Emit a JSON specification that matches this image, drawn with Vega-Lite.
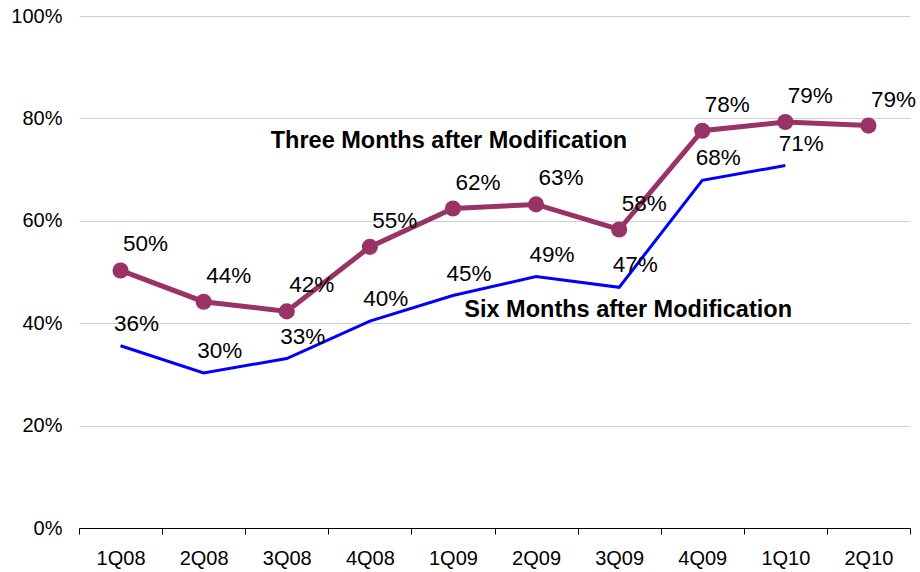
{
  "$schema": "https://vega.github.io/schema/vega-lite/v6.json",
  "width": 831,
  "height": 512,
  "autosize": "none",
  "padding": {"left": 79, "top": 16, "right": 10, "bottom": 44},
  "config": {"view": {"stroke": null}, "font": "Liberation Sans"},
  "data": {
    "values": [
      {"q": "1Q08", "s": "Three", "v": 0.503},
      {"q": "2Q08", "s": "Three", "v": 0.442},
      {"q": "3Q08", "s": "Three", "v": 0.423},
      {"q": "4Q08", "s": "Three", "v": 0.549},
      {"q": "1Q09", "s": "Three", "v": 0.624},
      {"q": "2Q09", "s": "Three", "v": 0.632},
      {"q": "3Q09", "s": "Three", "v": 0.583},
      {"q": "4Q09", "s": "Three", "v": 0.776},
      {"q": "1Q10", "s": "Three", "v": 0.793},
      {"q": "2Q10", "s": "Three", "v": 0.786},
      {"q": "1Q08", "s": "Six", "v": 0.356},
      {"q": "2Q08", "s": "Six", "v": 0.303},
      {"q": "3Q08", "s": "Six", "v": 0.331},
      {"q": "4Q08", "s": "Six", "v": 0.404},
      {"q": "1Q09", "s": "Six", "v": 0.454},
      {"q": "2Q09", "s": "Six", "v": 0.491},
      {"q": "3Q09", "s": "Six", "v": 0.470},
      {"q": "4Q09", "s": "Six", "v": 0.679},
      {"q": "1Q10", "s": "Six", "v": 0.708}
    ]
  },
  "encoding": {
    "x": {
      "field": "q", "type": "nominal", "sort": null,
      "scale": {"type": "band", "paddingInner": 0, "paddingOuter": 0,
        "domain": ["1Q08","2Q08","3Q08","4Q08","1Q09","2Q09","3Q09","4Q09","1Q10","2Q10"]},
      "axis": {"title": null, "labelAngle": 0, "labelFontSize": 20, "labelColor": "#000000",
        "domainColor": "#000000", "tickColor": "#000000", "tickSize": 6, "tickBand": "extent",
        "labelPadding": 14, "grid": false}
    },
    "y": {
      "field": "v", "type": "quantitative",
      "scale": {"domain": [0, 1]},
      "axis": {"title": null, "format": ".0%", "values": [0, 0.2, 0.4, 0.6, 0.8, 1],
        "domain": false, "ticks": false, "grid": true, "gridColor": "#d0d0d0",
        "labelFontSize": 20, "labelColor": "#000000", "labelPadding": 17}
    }
  },
  "layer": [
    {
      "transform": [{"filter": "datum.s === 'Six'"}],
      "mark": {"type": "line", "color": "#0000ff", "strokeWidth": 3}
    },
    {
      "transform": [{"filter": "datum.s === 'Three'"}],
      "mark": {"type": "line", "color": "#993366", "strokeWidth": 5}
    },
    {
      "transform": [{"filter": "datum.s === 'Three'"}],
      "mark": {"type": "point", "filled": true, "color": "#993366", "size": 260, "opacity": 1}
    },
    {
      "transform": [{"filter": "datum.s === 'Three'"}],
      "mark": {"type": "text", "fontSize": 22.5, "color": "#000000", "dx": 25, "dy": -26, "align": "center", "baseline": "middle"},
      "encoding": {"text": {"field": "v", "type": "quantitative", "format": ".0%"}}
    },
    {
      "transform": [{"filter": "datum.s === 'Six'"}],
      "mark": {"type": "text", "fontSize": 22.5, "color": "#000000", "dx": 16, "dy": -22, "align": "center", "baseline": "middle"},
      "encoding": {"text": {"field": "v", "type": "quantitative", "format": ".0%"}}
    },
    {
      "data": {"values": [
        {"q": "1Q09", "v": 0.755, "name": "Three Months after Modification"}
      ]},
      "mark": {"type": "text", "fontSize": 23.5, "fontWeight": "bold", "color": "#000000", "dx": -4, "align": "center", "baseline": "middle"},
      "encoding": {"text": {"field": "name"}}
    },
    {
      "data": {"values": [
        {"q": "3Q09", "v": 0.426, "name": "Six Months after Modification"}
      ]},
      "mark": {"type": "text", "fontSize": 23.5, "fontWeight": "bold", "color": "#000000", "dx": 9, "align": "center", "baseline": "middle"},
      "encoding": {"text": {"field": "name"}}
    }
  ]
}
